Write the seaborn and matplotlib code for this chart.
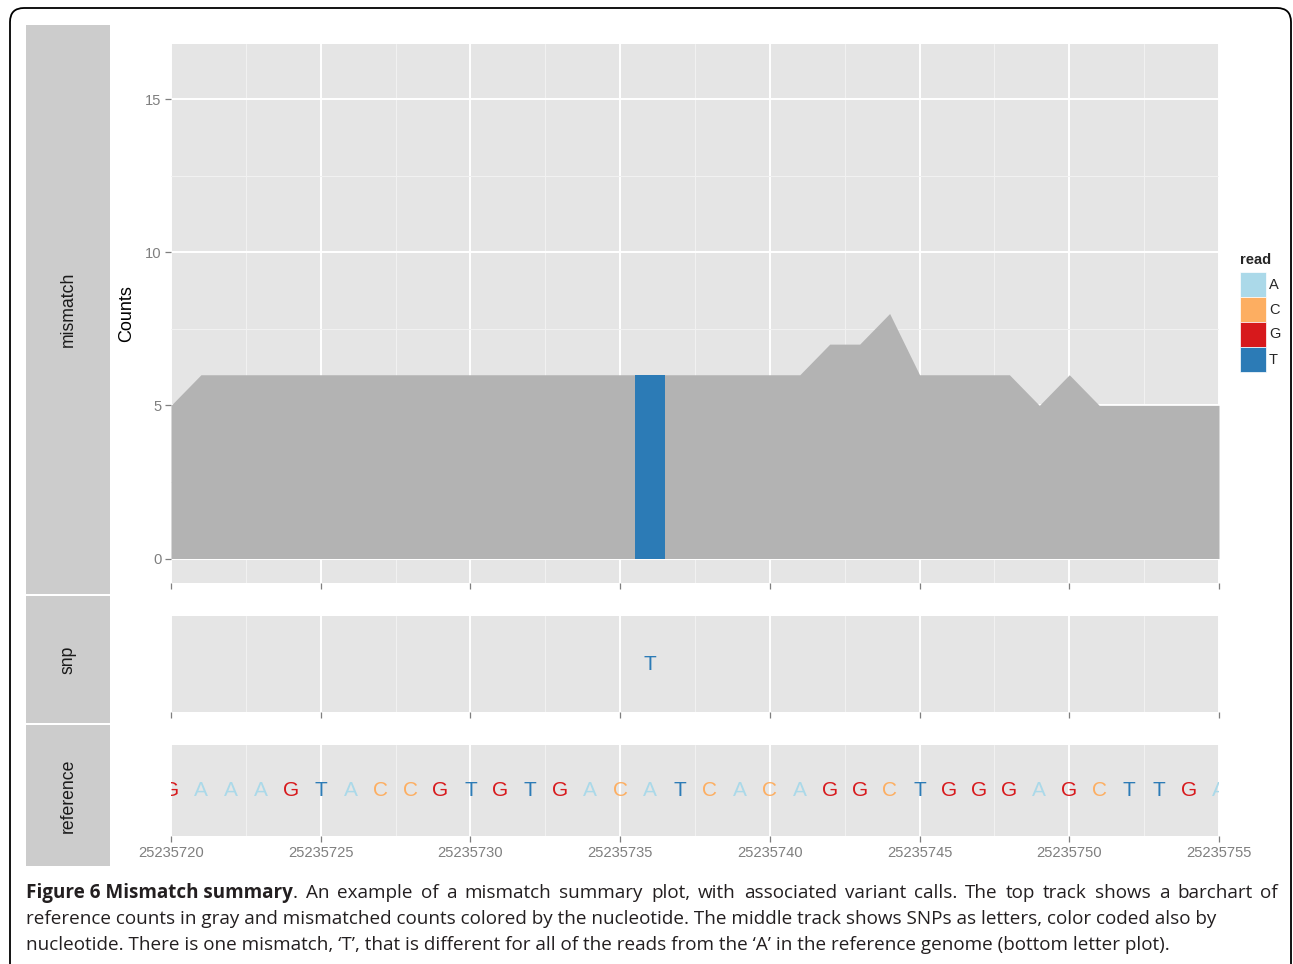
import matplotlib
matplotlib.use('Agg')
import matplotlib.pyplot as plt
import matplotlib.transforms as mtransforms
import seaborn as sns
import pandas as pd
from matplotlib.patches import Rectangle, FancyBboxPatch
from matplotlib.ticker import FixedLocator

# ---------------- data ----------------
positions = list(range(25235720, 25235756))
ref_counts = [5] + [6] * 21 + [7, 7, 8, 6, 6, 6, 6, 5, 6, 5, 5, 5, 5, 5]
ref_seq = list("GAAAGTACCGTGTGACATCACAGGCTGGGAGCTTGA")

mismatch_pos = [25235736]
mismatch_base = ["T"]
mismatch_count = [6]

snp_pos = [25235736]
snp_base = ["T"]

bases = ["A", "C", "G", "T"]
base_colors = ["#ABD9E9", "#FDAE61", "#D7191C", "#2C7BB6"]
palette = dict(zip(bases, base_colors))

x_ticks = [25235720, 25235725, 25235730, 25235735, 25235740, 25235745, 25235750, 25235755]
x_tick_labels = [str(v) for v in x_ticks]
x_minor = [25235722.5, 25235727.5, 25235732.5, 25235737.5, 25235742.5, 25235747.5, 25235752.5]
y_ticks = [0, 5, 10, 15]
y_minor = [2.5, 7.5, 12.5]

track_names = ["mismatch", "snp", "reference"]
legend_title = "read"

caption_bold = "Figure 6 Mismatch summary"
caption_line1 = ". An example of a mismatch summary plot, with associated variant calls. The top track shows a barchart of"
caption_line2 = "reference counts in gray and mismatched counts colored by the nucleotide. The middle track shows SNPs as letters, color coded also by"
caption_line3 = "nucleotide. There is one mismatch, \u2018T\u2019, that is different for all of the reads from the \u2018A\u2019 in the reference genome (bottom letter plot)."

# ---------------- figure ----------------
W, H = 1293, 964
sns.set_theme(style="darkgrid")
plt.rcParams["font.family"] = ["Liberation Sans", "DejaVu Sans"]

fig = plt.figure(figsize=(W / 100, H / 100), dpi=100)
fig.patch.set_facecolor("white")


def ax_px(x0, y0, x1, y1):
    return fig.add_axes([x0 / W, 1 - y1 / H, (x1 - x0) / W, (y1 - y0) / H])


def fx(x):
    return x / W


def fy(y):
    return 1 - y / H


PANEL_BG = "#E5E5E5"
TICK_COL = "#7F7F7F"


def style_axes(ax, show_xlabels=False, yticks=None, yminor=None):
    ax.set_facecolor(PANEL_BG)
    for s in ax.spines.values():
        s.set_visible(False)
    ax.set_xlim(x_ticks[0], x_ticks[-1])
    ax.xaxis.set_major_locator(FixedLocator(x_ticks))
    ax.xaxis.set_minor_locator(FixedLocator(x_minor))
    if show_xlabels:
        ax.set_xticklabels(x_tick_labels)
    else:
        ax.set_xticklabels([])
    if yticks is not None:
        ax.yaxis.set_major_locator(FixedLocator(yticks))
        ax.yaxis.set_minor_locator(FixedLocator(yminor))
        ax.set_yticklabels([str(v) for v in yticks])
    else:
        ax.set_yticks([])
    ax.grid(which="major", color="white", linewidth=1.4)
    ax.grid(which="minor", color="#F2F2F2", linewidth=0.7)
    ax.set_axisbelow(True)
    ax.tick_params(which="major", axis="both", length=4.5, width=0.9, color=TICK_COL,
                   labelcolor=TICK_COL, labelsize=10.6, pad=2.5,
                   bottom=True, left=yticks is not None)
    ax.tick_params(which="minor", length=0)
    ax.set_xlabel("")
    ax.set_ylabel("")


# --- mismatch track ---
ax1 = ax_px(171, 44, 1219, 583)
ax1.fill_between(positions, 0, ref_counts, color="#B3B3B3", linewidth=0, zorder=2)
df_mm = pd.DataFrame({"pos": mismatch_pos, "count": mismatch_count, "read": mismatch_base})
sns.barplot(data=df_mm, x="pos", y="count", hue="read", palette=palette, native_scale=True,
            width=1.0, dodge=False, errorbar=None, saturation=1, linewidth=0, legend=False,
            ax=ax1, zorder=3)
style_axes(ax1, yticks=y_ticks, yminor=y_minor)
ax1.set_ylim(-0.8, 16.8)
ax1.set_ylabel("Counts", fontsize=13, color="black", labelpad=7)

# --- snp track ---
ax2 = ax_px(171, 616, 1219, 712)
style_axes(ax2)
ax2.set_ylim(0, 1)
for p, b in zip(snp_pos, snp_base):
    ax2.text(p, 0.5, b, color=palette[b], fontsize=15, ha="center", va="center", clip_on=True)

# --- reference track ---
ax3 = ax_px(171, 745, 1219, 836)
style_axes(ax3, show_xlabels=True)
ax3.set_ylim(0, 1)
for p, b in zip(positions, ref_seq):
    ax3.text(p, 0.5, b, color=palette[b], fontsize=15, ha="center", va="center", clip_on=True)

# --- strips on the left ---
strips = [(25, 594), (596, 723), (725, 866)]
for name, (y0, y1) in zip(track_names, strips):
    fig.add_artist(Rectangle((fx(26), fy(y1)), (110 - 26) / W, (y1 - y0) / H,
                             transform=fig.transFigure, facecolor="#CCCCCC", edgecolor="none"))
    fig.text(fx(68), fy((y0 + y1) / 2), name, rotation=90, ha="center", va="center",
             fontsize=12.7, color="#1A1A1A")

# --- legend ---
fig.text(fx(1240), fy(260), legend_title, fontsize=10.5, fontweight="bold", ha="left", va="center")
for i, (b, c) in enumerate(zip(bases, base_colors)):
    top = 272 + 25 * i
    fig.add_artist(Rectangle((fx(1240), fy(top + 25)), 26 / W, 25 / H,
                             transform=fig.transFigure, facecolor=c, edgecolor="white", linewidth=0.5))
    fig.text(fx(1269), fy(top + 12.5), b, fontsize=10.5, ha="left", va="center")

# --- caption ---
cap_font = ["Open Sans", "DejaVu Sans"]
cap_col = "#231F20"
fs = 12
r = fig.canvas.get_renderer()
t2 = fig.text(fx(26), fy(919), caption_line2, fontsize=fs, family=cap_font, color=cap_col,
              va="center", ha="left")
t3 = fig.text(fx(26), fy(945), caption_line3, fontsize=fs, family=cap_font, color=cap_col,
              va="center", ha="left")
fig.canvas.draw()
measured = t2.get_window_extent(r).width + t3.get_window_extent(r).width
targets = (1209 - 26) + (1166 - 26)
fs2 = fs * targets / measured
t2.set_fontsize(fs2)
t3.set_fontsize(fs2)

# justified first line
tb = fig.text(fx(26), fy(893), caption_bold, fontsize=fs2, fontweight="bold",
              family=cap_font, color=cap_col, va="center", ha="left")
words = caption_line1.split(" ")
word_txts = [fig.text(0, fy(893), w, fontsize=fs2, family=cap_font, color=cap_col,
                      va="center", ha="left") for w in words]
fig.canvas.draw()
x_cur = tb.get_window_extent(r).x1
first = word_txts[0]
first.set_x(x_cur / W)
x_cur += first.get_window_extent(r).width
rest = word_txts[1:]
widths = [t.get_window_extent(r).width for t in rest]
gap = (1278 - x_cur - sum(widths)) / len(rest)
for t, w in zip(rest, widths):
    x_cur += gap
    t.set_x(x_cur / W)
    x_cur += w

# --- outer frame ---
fig.add_artist(FancyBboxPatch((10, -20), 1281, 976, boxstyle="round,pad=0,rounding_size=14",
                              transform=mtransforms.IdentityTransform(), fill=False,
                              edgecolor="black", linewidth=1.3))

fig.savefig("out.png", dpi=100)
